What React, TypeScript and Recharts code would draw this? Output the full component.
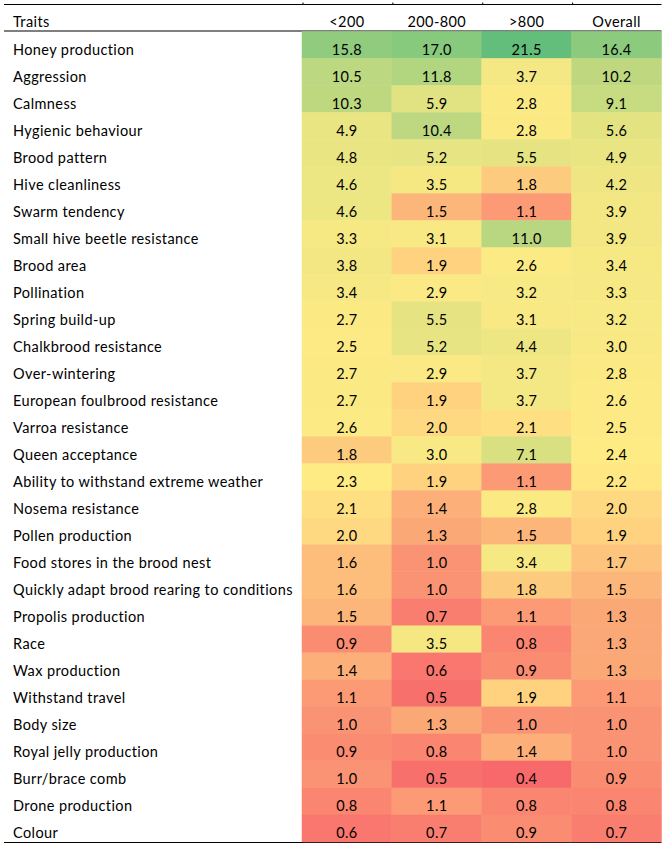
import React from "react";
import { BarChart, Bar, XAxis, YAxis } from "recharts";

const traits = [
  "Honey production",
  "Aggression",
  "Calmness",
  "Hygienic behaviour",
  "Brood pattern",
  "Hive cleanliness",
  "Swarm tendency",
  "Small hive beetle resistance",
  "Brood area",
  "Pollination",
  "Spring build-up",
  "Chalkbrood resistance",
  "Over-wintering",
  "European foulbrood resistance",
  "Varroa resistance",
  "Queen acceptance",
  "Ability to withstand extreme weather",
  "Nosema resistance",
  "Pollen production",
  "Food stores in the brood nest",
  "Quickly adapt brood rearing to conditions",
  "Propolis production",
  "Race",
  "Wax production",
  "Withstand travel",
  "Body size",
  "Royal jelly production",
  "Burr/brace comb",
  "Drone production",
  "Colour",
];

const columns = ["<200", "200-800", ">800", "Overall"];

const under200 = [
  15.8, 10.5, 10.3, 4.9, 4.8, 4.6, 4.6, 3.3, 3.8, 3.4, 2.7, 2.5, 2.7, 2.7, 2.6,
  1.8, 2.3, 2.1, 2.0, 1.6, 1.6, 1.5, 0.9, 1.4, 1.1, 1.0, 0.9, 1.0, 0.8, 0.6,
];
const from200to800 = [
  17.0, 11.8, 5.9, 10.4, 5.2, 3.5, 1.5, 3.1, 1.9, 2.9, 5.5, 5.2, 2.9, 1.9, 2.0,
  3.0, 1.9, 1.4, 1.3, 1.0, 1.0, 0.7, 3.5, 0.6, 0.5, 1.3, 0.8, 0.5, 1.1, 0.7,
];
const over800 = [
  21.5, 3.7, 2.8, 2.8, 5.5, 1.8, 1.1, 11.0, 2.6, 3.2, 3.1, 4.4, 3.7, 3.7, 2.1,
  7.1, 1.1, 2.8, 1.5, 3.4, 1.8, 1.1, 0.8, 0.9, 1.9, 1.0, 1.4, 0.4, 0.8, 0.9,
];
const overall = [
  16.4, 10.2, 9.1, 5.6, 4.9, 4.2, 3.9, 3.9, 3.4, 3.3, 3.2, 3.0, 2.8, 2.6, 2.5,
  2.4, 2.2, 2.0, 1.9, 1.7, 1.5, 1.3, 1.3, 1.3, 1.1, 1.0, 1.0, 0.9, 0.8, 0.7,
];

const series = [under200, from200to800, over800, overall];

// one row per trait, each column gets one unit of width
const data = traits.map((trait) => ({
  trait,
  u0: 1,
  u1: 1,
  u2: 1,
  u3: 1,
}));

// excel style 3-colour scale: min red, median yellow, max green
const allValues = series.flat().sort((a, b) => a - b);
const minV = allValues[0];
const maxV = allValues[allValues.length - 1];
const n = allValues.length;
const medV =
  n % 2 ? allValues[(n - 1) / 2] : (allValues[n / 2 - 1] + allValues[n / 2]) / 2;

const RED = [248, 105, 107];
const YELLOW = [255, 235, 132];
const GREEN = [99, 190, 123];

const mix = (a: number[], b: number[], t: number) =>
  `rgb(${a.map((c, k) => Math.round(c + (b[k] - c) * t)).join(",")})`;

const colorFor = (v: number) => {
  if (v <= medV) return mix(RED, YELLOW, (v - minV) / (medV - minV));
  return mix(YELLOW, GREEN, (v - medV) / (maxV - medV));
};

const FONT = "Lato, 'Open Sans', sans-serif";
const FONT_SIZE = 14.5;
const SPACING = 0.4;

const makeCell = (col: number) => (props: any) => {
  const { x, y, width, height, index } = props;
  const v = series[col][index];
  const fill = colorFor(v);
  return (
    <g>
      <rect
        x={x}
        y={y}
        width={width}
        height={height}
        fill={fill}
        stroke={fill}
        strokeWidth={0.5}
      />
      <text
        x={x + width / 2}
        y={y + height - 4}
        textAnchor="middle"
        fontFamily={FONT}
        fontSize={FONT_SIZE}
        letterSpacing={SPACING}
        fill="#000"
      >
        {v.toFixed(1)}
      </text>
    </g>
  );
};

const TraitTick = (props: any) => {
  const { y, payload } = props;
  return (
    <text
      x={13}
      y={y + 9.5}
      textAnchor="start"
      fontFamily={FONT}
      fontSize={FONT_SIZE}
      letterSpacing={SPACING}
      fill="#000"
    >
      {payload.value}
    </text>
  );
};

const HeaderTick = (props: any) => {
  const { x, payload } = props;
  return (
    <text
      x={x}
      y={26.5}
      textAnchor="middle"
      fontFamily={FONT}
      fontSize={FONT_SIZE}
      letterSpacing={SPACING}
      fill="#000"
    >
      {columns[Math.floor(payload.value)]}
    </text>
  );
};

const LEFT = 302;
const RIGHT = 661.5;
const colW = (RIGHT - LEFT) / columns.length;

export default function App() {
  return (
    <div style={{ width: 666, height: 849, background: "#fff" }}>
      <style>{`body{margin:0}`}</style>
      <BarChart
        width={666}
        height={849}
        data={data}
        layout="vertical"
        barCategoryGap={0}
        margin={{ top: 0, right: 4.5, bottom: 7, left: 0 }}
      >
        <XAxis
          type="number"
          orientation="top"
          domain={[0, 4]}
          ticks={[0.5, 1.5, 2.5, 3.5]}
          height={31.5}
          axisLine={false}
          tickLine={false}
          tick={<HeaderTick />}
        />
        <YAxis
          type="category"
          dataKey="trait"
          width={302}
          axisLine={false}
          tickLine={false}
          interval={0}
          tick={<TraitTick />}
        />
        {[0, 1, 2, 3].map((c) => (
          <Bar
            key={c}
            dataKey={`u${c}`}
            stackId="cells"
            isAnimationActive={false}
            shape={makeCell(c)}
          />
        ))}
        <text
          x={13}
          y={26.5}
          fontFamily={FONT}
          fontSize={FONT_SIZE}
          letterSpacing={SPACING}
          fill="#000"
        >
          Traits
        </text>
        <line x1={4} x2={RIGHT} y1={4.5} y2={4.5} stroke="#000" strokeWidth={1.2} />
        <line x1={4} x2={RIGHT} y1={31} y2={31} stroke="#000" strokeWidth={1.2} />
        <line x1={4} x2={RIGHT} y1={842.5} y2={842.5} stroke="#000" strokeWidth={1.2} />
        {[0, 1, 2, 3].map((c) => (
          <line
            key={c}
            x1={LEFT + 1 + c * colW}
            x2={LEFT + 1 + c * colW}
            y1={2.5}
            y2={4.5}
            stroke="#000"
            strokeWidth={1}
          />
        ))}
      </BarChart>
    </div>
  );
}
